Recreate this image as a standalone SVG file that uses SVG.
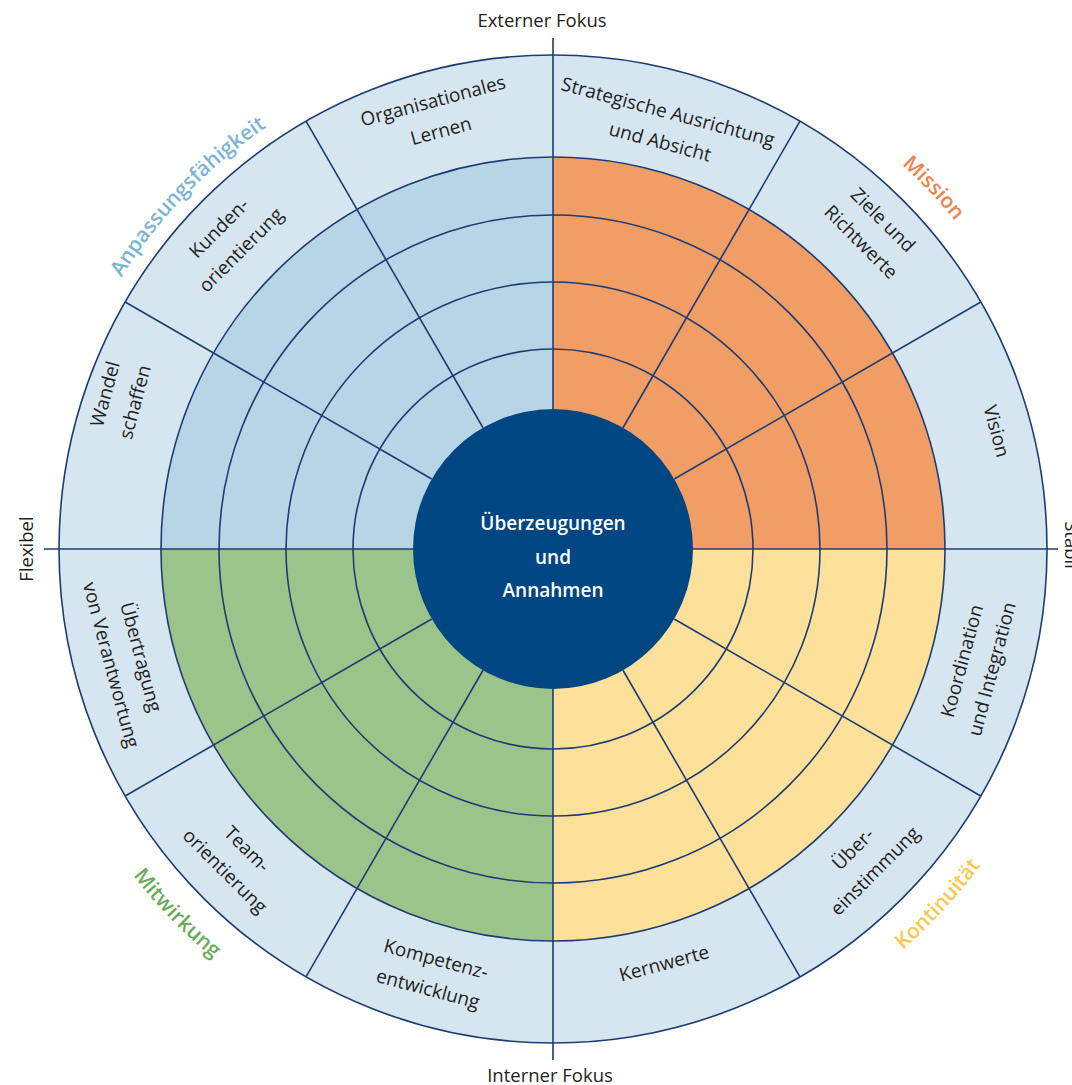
<svg xmlns="http://www.w3.org/2000/svg" xmlns:xlink="http://www.w3.org/1999/xlink" width="1072" height="1085" viewBox="0 0 1072 1085">
  <style>
    .line { fill: none; stroke: #1e3c73; stroke-width: 1.6; }
    .lbl { font-family: "Open Sans", "Liberation Sans", sans-serif; font-size: 19px; fill: #231f20; text-anchor: middle; }
    .axis { font-family: "Open Sans", "Liberation Sans", sans-serif; font-size: 18.5px; fill: #231f20; text-anchor: middle; }
    .dim { font-family: "Open Sans", "Liberation Sans", sans-serif; font-size: 21px; font-weight: 600; text-anchor: middle; }
    .core { font-family: "Open Sans", "Liberation Sans", sans-serif; font-size: 19px; font-weight: 600; fill: #ffffff; text-anchor: middle; }
  </style>
  <defs>
    <!-- one radial divider, from the core circle to the outer rim; rotated copies below -->
    <line id="spoke" class="line" x1="553" y1="409" x2="553" y2="55"/>
    <!-- baselines for the four dimension names -->
    <path id="arc-anpassung" d="M 44.24 513.42 A 510 510 0 0 1 499.69 41.79"/>
    <path id="arc-mission" d="M 611.75 33.34 A 519 519 0 0 1 1071.03 517.32"/>
    <path id="arc-kontinuitaet" d="M 620.60 1076.69 A 532 532 0 0 0 1084.41 574.06"/>
    <path id="arc-mitwirkung" d="M 22.36 587.04 A 532 532 0 0 0 498.32 1078.18"/>
  </defs>

  <!-- wheel background and quadrant fills -->
  <g id="wheel">
    <circle cx="553" cy="549" r="494" fill="#d6e6f1"/>
    <path d="M553 549 L161 549 A392 392 0 0 1 553 157 Z" fill="#b6d5e6"/>
    <path d="M553 549 L553 157 A392 392 0 0 1 945 549 Z" fill="#f09d66"/>
    <path d="M553 549 L945 549 A392 392 0 0 1 553 941 Z" fill="#fde09a"/>
    <path d="M553 549 L553 941 A392 392 0 0 1 161 549 Z" fill="#9bc48b"/>
    <circle class="line" cx="553" cy="549" r="494"/>
    <circle class="line" cx="553" cy="549" r="392"/>
    <circle class="line" cx="553" cy="549" r="334"/>
    <circle class="line" cx="553" cy="549" r="267"/>
    <circle class="line" cx="553" cy="549" r="200"/>
  </g>

  <!-- axes and sector dividers -->
  <g id="connectors">
    <line class="line" x1="553" y1="38" x2="553" y2="1060"/>
    <line class="line" x1="44" y1="549" x2="1058" y2="549"/>
    <use xlink:href="#spoke" transform="rotate(30 553 549)"/>
    <use xlink:href="#spoke" transform="rotate(60 553 549)"/>
    <use xlink:href="#spoke" transform="rotate(120 553 549)"/>
    <use xlink:href="#spoke" transform="rotate(150 553 549)"/>
    <use xlink:href="#spoke" transform="rotate(210 553 549)"/>
    <use xlink:href="#spoke" transform="rotate(240 553 549)"/>
    <use xlink:href="#spoke" transform="rotate(300 553 549)"/>
    <use xlink:href="#spoke" transform="rotate(330 553 549)"/>
  </g>

  <!-- core -->
  <g id="core">
    <circle cx="553" cy="549" r="140" fill="#004683"/>
    <text class="core"><tspan x="553" y="530">Überzeugungen</tspan><tspan x="553" y="564">und</tspan><tspan x="553" y="597">Annahmen</tspan></text>
  </g>

  <!-- axis captions -->
  <g id="axis-labels">
    <text class="axis" x="542" y="27">Externer Fokus</text>
    <text class="axis" x="550" y="1082">Interner Fokus</text>
    <text class="axis" transform="translate(33 549) rotate(-90)">Flexibel</text>
    <text class="axis" transform="translate(1065 545) rotate(90)">Stabil</text>
  </g>

  <!-- dimension names -->
  <g id="dimensions">
    <text class="dim" fill="#7db5d1"><textPath xlink:href="#arc-anpassung" startOffset="50%">Anpassungsfähigkeit</textPath></text>
    <text class="dim" fill="#ea8452"><textPath xlink:href="#arc-mission" startOffset="50%">Mission</textPath></text>
    <text class="dim" fill="#f6ca4f"><textPath xlink:href="#arc-kontinuitaet" startOffset="50%">Kontinuität</textPath></text>
    <text class="dim" fill="#6aab58"><textPath xlink:href="#arc-mitwirkung" startOffset="50%">Mitwirkung</textPath></text>
  </g>

  <!-- sector labels in the outer ring -->
  <g id="organisationales-lernen" transform="translate(437 116) rotate(-15)">
    <text class="lbl"><tspan x="0" y="-9">Organisationales</tspan><tspan x="0" y="22">Lernen</tspan></text>
  </g>
  <g id="strategische-ausrichtung" transform="translate(664 127) rotate(15)">
    <text class="lbl"><tspan x="0" y="-9">Strategische Ausrichtung</tspan><tspan x="0" y="22">und Absicht</tspan></text>
  </g>
  <g id="ziele-richtwerte" transform="translate(872 231) rotate(45)">
    <text class="lbl"><tspan x="0" y="-9">Ziele und</tspan><tspan x="0" y="22">Richtwerte</tspan></text>
  </g>
  <g id="vision" transform="translate(997 431) rotate(75)">
    <text class="lbl" x="0" y="7">Vision</text>
  </g>
  <g id="koordination-integration" transform="translate(977 665) rotate(-75)">
    <text class="lbl"><tspan x="0" y="-9">Koordination</tspan><tspan x="0" y="22">und Integration</tspan></text>
  </g>
  <g id="uebereinstimmung" transform="translate(864 860) rotate(-45)">
    <text class="lbl"><tspan x="0" y="-9">Über-</tspan><tspan x="0" y="22">einstimmung</tspan></text>
  </g>
  <g id="kernwerte" transform="translate(664 963) rotate(-15)">
    <text class="lbl" x="0" y="7">Kernwerte</text>
  </g>
  <g id="kompetenzentwicklung" transform="translate(432 974) rotate(15)">
    <text class="lbl"><tspan x="0" y="-9">Kompetenz-</tspan><tspan x="0" y="22">entwicklung</tspan></text>
  </g>
  <g id="teamorientierung" transform="translate(236 860) rotate(45)">
    <text class="lbl"><tspan x="0" y="-9">Team-</tspan><tspan x="0" y="22">orientierung</tspan></text>
  </g>
  <g id="uebertragung-verantwortung" transform="translate(126 661) rotate(75)">
    <text class="lbl"><tspan x="0" y="-9">Übertragung</tspan><tspan x="0" y="22">von Verantwortung</tspan></text>
  </g>
  <g id="wandel-schaffen" transform="translate(120 398) rotate(-75)">
    <text class="lbl"><tspan x="0" y="-9">Wandel</tspan><tspan x="0" y="22">schaffen</tspan></text>
  </g>
  <g id="kundenorientierung" transform="translate(230 239) rotate(-45)">
    <text class="lbl"><tspan x="0" y="-9">Kunden-</tspan><tspan x="0" y="22">orientierung</tspan></text>
  </g>
</svg>
